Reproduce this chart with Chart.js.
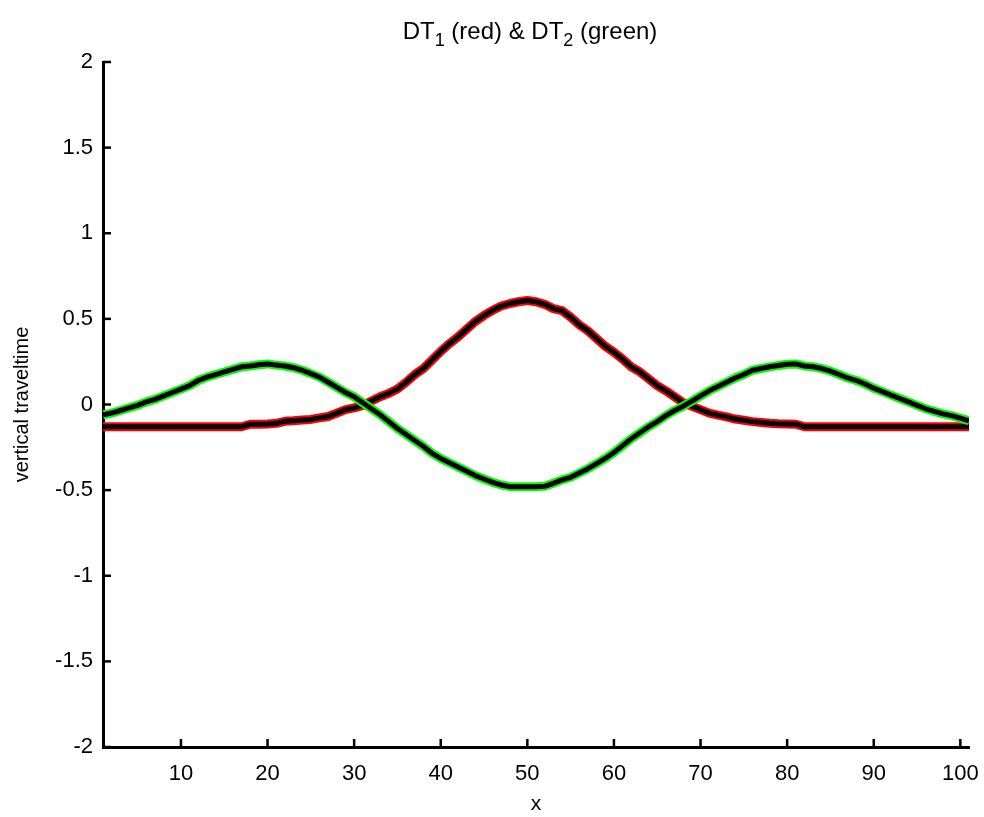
<!DOCTYPE html>
<html>
<head>
<meta charset="utf-8">
<script src="https://cdn.jsdelivr.net/npm/chart.js@4.4.0/dist/chart.umd.min.js"></script>
<style>
  html, body { margin: 0; padding: 0; background: #fff; }
  #wrap { width: 984px; height: 817px; }
</style>
</head>
<body>
<div id="wrap"><canvas id="c" width="984" height="817"></canvas></div>
<script>
// x positions 1..101
const xValues = Array.from({ length: 101 }, (_, i) => i + 1);

// DT1 (red curve)
const dt1 = [
  -0.13, -0.13, -0.13, -0.13, -0.13, -0.13, -0.13, -0.13, -0.13, -0.13,
  -0.13, -0.13, -0.13, -0.13, -0.13, -0.13, -0.13, -0.115, -0.115, -0.114,
  -0.11, -0.098, -0.095, -0.09, -0.087, -0.078, -0.07, -0.05, -0.03, -0.02,
  -0.005, 0.02, 0.045, 0.065, 0.09, 0.13, 0.175, 0.21, 0.26, 0.31,
  0.355, 0.395, 0.44, 0.485, 0.52, 0.55, 0.575, 0.59, 0.6, 0.607,
  0.6, 0.585, 0.56, 0.548, 0.51, 0.465, 0.43, 0.385, 0.34, 0.305,
  0.265, 0.22, 0.19, 0.15, 0.11, 0.08, 0.045, 0.01, -0.01, -0.03,
  -0.05, -0.062, -0.072, -0.085, -0.092, -0.1, -0.105, -0.11, -0.113, -0.114,
  -0.115, -0.13, -0.13, -0.13, -0.13, -0.13, -0.13, -0.13, -0.13, -0.13,
  -0.13, -0.13, -0.13, -0.13, -0.13, -0.13, -0.13, -0.13, -0.13, -0.13,
  -0.13
];

// DT2 (green curve)
const dt2 = [
  -0.06, -0.05, -0.035, -0.02, -0.005, 0.015, 0.03, 0.05, 0.07, 0.09,
  0.11, 0.14, 0.16, 0.175, 0.19, 0.205, 0.22, 0.225, 0.232, 0.237,
  0.23, 0.225, 0.215, 0.2, 0.18, 0.16, 0.13, 0.1, 0.07, 0.045,
  0.01, -0.025, -0.06, -0.1, -0.14, -0.175, -0.21, -0.245, -0.285, -0.315,
  -0.34, -0.365, -0.39, -0.415, -0.435, -0.455, -0.47, -0.48, -0.48, -0.48,
  -0.48, -0.478, -0.46, -0.44, -0.425, -0.4, -0.375, -0.345, -0.315, -0.28,
  -0.24, -0.2, -0.165, -0.13, -0.1, -0.065, -0.035, -0.01, 0.02, 0.05,
  0.08, 0.105, 0.13, 0.155, 0.175, 0.2, 0.21, 0.22, 0.228, 0.235,
  0.237, 0.225, 0.22, 0.21, 0.195, 0.175, 0.155, 0.14, 0.12, 0.095,
  0.075, 0.055, 0.035, 0.015, -0.005, -0.025, -0.04, -0.055, -0.065, -0.08,
  -0.095
];

const xTicks = [10, 20, 30, 40, 50, 60, 70, 80, 90, 100];
const yTicks = [-2, -1.5, -1, -0.5, 0, 0.5, 1, 1.5, 2];

const FONT = '"Liberation Sans", Arial, Helvetica, sans-serif';

function pts(vals) {
  return vals.map((v, i) => ({ x: xValues[i], y: v }));
}

// inward tick marks like the original figure
const inwardTicks = {
  id: 'inwardTicks',
  afterDraw(chart) {
    const { ctx, chartArea, scales } = chart;
    ctx.save();
    ctx.strokeStyle = '#000';
    ctx.lineWidth = 2.5;
    xTicks.forEach(t => {
      const px = scales.x.getPixelForValue(t);
      ctx.beginPath();
      ctx.moveTo(px, chartArea.bottom);
      ctx.lineTo(px, chartArea.bottom - 8);
      ctx.stroke();
    });
    yTicks.forEach(t => {
      const py = scales.y.getPixelForValue(t);
      ctx.beginPath();
      ctx.moveTo(chartArea.left, py);
      ctx.lineTo(chartArea.left + 8, py);
      ctx.stroke();
    });
    ctx.restore();
  }
};

// title with subscripts
const subTitle = {
  id: 'subTitle',
  afterDraw(chart) {
    const { ctx } = chart;
    const parts = [
      ['DT', false], ['1', true], [' (red) & DT', false], ['2', true], [' (green)', false]
    ];
    const big = '24px ' + FONT;
    const small = '18px ' + FONT;
    ctx.save();
    let w = 0;
    parts.forEach(([s, sub]) => { ctx.font = sub ? small : big; w += ctx.measureText(s).width; });
    let x = 530 - w / 2;
    const base = 39;
    ctx.fillStyle = '#000';
    ctx.textBaseline = 'alphabetic';
    parts.forEach(([s, sub]) => {
      ctx.font = sub ? small : big;
      ctx.fillText(s, x, sub ? base + 7 : base);
      x += ctx.measureText(s).width;
    });
    ctx.restore();
  }
};

new Chart(document.getElementById('c'), {
  type: 'line',
  data: {
    datasets: [
      { data: pts(dt1), borderColor: '#ff0000', borderWidth: 9, order: 4 },
      { data: pts(dt1), borderColor: '#000000', borderWidth: 5, order: 3 },
      { data: pts(dt2), borderColor: '#00ff00', borderWidth: 9, order: 2 },
      { data: pts(dt2), borderColor: '#000000', borderWidth: 5, order: 1 }
    ]
  },
  options: {
    responsive: false,
    animation: false,
    layout: { padding: { top: 62, right: 15, left: 0, bottom: 0 } },
    elements: {
      point: { radius: 0 },
      line: { tension: 0, borderJoinStyle: 'round', borderCapStyle: 'butt', fill: false }
    },
    plugins: { legend: { display: false }, tooltip: { enabled: false }, title: { display: false } },
    scales: {
      x: {
        type: 'linear',
        min: 1,
        max: 101,
        afterBuildTicks: s => { s.ticks = xTicks.map(v => ({ value: v })); },
        afterFit: s => { s.height = 817 - 747; s.paddingLeft = 0; s.paddingRight = 0; },
        grid: { display: false, drawTicks: false },
        border: { display: true, color: '#000', width: 3 },
        ticks: { color: '#000', font: { family: FONT, size: 22 }, padding: 14, maxRotation: 0 },
        title: { display: true, text: 'x', color: '#000', font: { family: FONT, size: 21, lineHeight: 0.8 }, padding: { top: 6 } }
      },
      y: {
        min: -2,
        max: 2,
        afterBuildTicks: s => { s.ticks = yTicks.map(v => ({ value: v })); },
        afterFit: s => { s.width = 103; },
        grid: { display: false, drawTicks: false },
        border: { display: true, color: '#000', width: 3 },
        ticks: {
          color: '#000',
          font: { family: FONT, size: 22 },
          padding: 10,
          callback: v => String(v)
        },
        title: { display: true, text: 'vertical traveltime', color: '#000', font: { family: FONT, size: 20 }, padding: { top: 10, bottom: 4 } }
      }
    }
  },
  plugins: [inwardTicks, subTitle]
});
</script>
</body>
</html>
